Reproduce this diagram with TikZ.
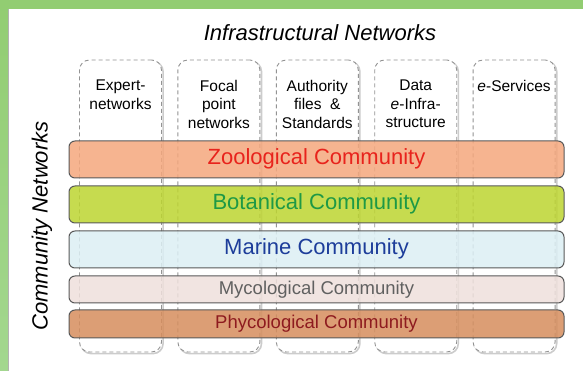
\documentclass[tikz,border=0pt]{standalone}
\usepackage{fontspec}
\setmainfont{Liberation Sans}
\definecolor{framegreen}{HTML}{92CD72}
\definecolor{framelight}{HTML}{A3D78F}
\definecolor{zoofill}{HTML}{F5A77D}
\definecolor{zootext}{HTML}{E8231C}
\definecolor{botfill}{HTML}{BDD531}
\definecolor{bottext}{HTML}{1E9945}
\definecolor{marfill}{HTML}{DCEFF4}
\definecolor{martext}{HTML}{1D3D9A}
\definecolor{mycfill}{HTML}{EFE0DC}
\definecolor{myctext}{HTML}{606060}
\definecolor{phyfill}{HTML}{D68E5E}
\definecolor{phytext}{HTML}{8E1B1F}

\begin{document}
\begin{tikzpicture}[x=1pt,y=1pt,
  col/.style={draw=gray!85,dash pattern=on 4pt off 3pt,line width=0.9pt,rounded corners=10pt,
    fill=white,minimum width=82pt,minimum height=292pt,inner sep=0pt},
  lbl/.style={align=center,anchor=north,inner sep=0pt,font=\fontsize{15.5}{18.5}\selectfont},
  band/.style={draw=black!65,line width=1pt,rounded corners=6pt,fill opacity=0.85,text opacity=1,
    minimum width=495pt,inner sep=0pt,text height=0.95em,text depth=0pt}]
\useasboundingbox (0,0) rectangle (583,371);
\fill[white] (0,0) rectangle (583,371);
\shade[top color=framegreen,bottom color=framelight] (0,0) rectangle (8,371);
\fill[framegreen] (0,362) rectangle (583,371);
\draw[gray!60,line width=0.6pt] (8.3,0) -- (8.3,362);

\node[font=\fontsize{22}{26}\selectfont\itshape] (infra) at (320,338) {Infrastructural Networks};
\node[rotate=90,font=\fontsize{22}{26}\selectfont\itshape] (comm) at (42,145) {Community Networks};

\foreach \x/\n in {120.5/1,218.9/2,317.3/3,415.7/4,514.1/5}{
  \node[col,draw=gray!40,solid,line width=1.6pt,fill=none,xshift=1.6pt,yshift=-1.6pt] at (\x,165){};
  \node[col] (c\n) at (\x,165){};
}
\node[lbl] (l1) at ([yshift=-20.5pt]c1.north) {Expert-\\networks};
\node[lbl] (l2) at ([yshift=-20.5pt]c2.north) {Focal\\point\\networks};
\node[lbl] (l3) at ([yshift=-20.5pt]c3.north) {Authority\\files \ \&\\Standards};
\node[lbl] (l4) at ([yshift=-20.5pt]c4.north) {Data\\\textit{e}-Infra-\\structure};
\node[lbl] (l5) at ([yshift=-20.5pt]c5.north) {\textit{e}-Services};

\node[band,fill=zoofill,text=zootext,minimum height=37pt,font=\fontsize{22}{26}\selectfont] (zoo) at (316.5,211.5) {Zoological Community};
\node[band,fill=botfill,text=bottext,minimum height=37pt,font=\fontsize{22}{26}\selectfont] (bot) at (316.5,166.5) {Botanical Community};
\node[band,fill=marfill,text=martext,minimum height=37pt,font=\fontsize{22}{26}\selectfont] (mar) at (316.5,121.5) {Marine Community};
\node[band,fill=mycfill,text=myctext,minimum height=27pt,font=\fontsize{18.5}{22}\selectfont] (myc) at (316.5,81.5) {Mycological Community};
\node[band,fill=phyfill,text=phytext,minimum height=28pt,font=\fontsize{18.5}{22}\selectfont] (phy) at (316.5,47) {Phycological Community};
\end{tikzpicture}
\end{document}
